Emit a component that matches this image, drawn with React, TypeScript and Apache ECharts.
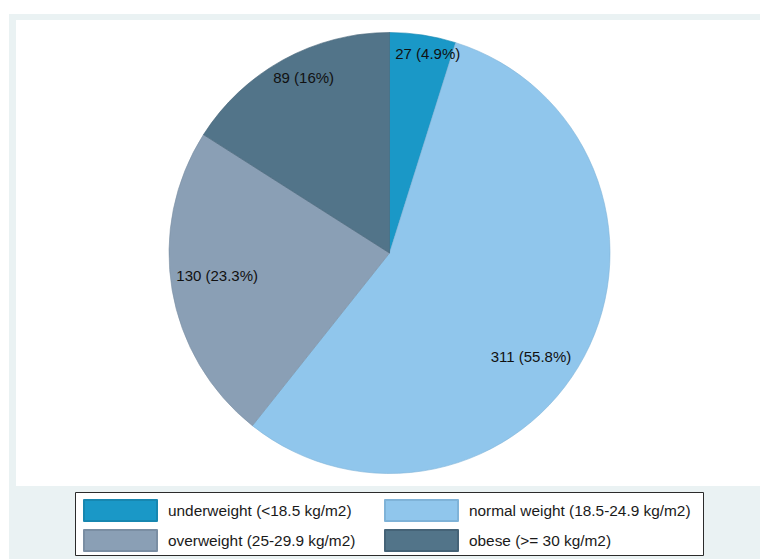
import React, { useEffect, useRef } from "react";
import * as echarts from "echarts";

const categories = [
  "underweight (<18.5 kg/m2)",
  "normal weight (18.5-24.9 kg/m2)",
  "overweight (25-29.9 kg/m2)",
  "obese (>= 30 kg/m2)",
];
const counts = [27, 311, 130, 89];
const colors = ["#1A98C7", "#90C6EC", "#8A9FB5", "#527489"];
const borderColors = ["#1787b0", "#7fb3d8", "#7a8ea3", "#456377"];
// small per-label nudges (px) to match the reference placement
const labelNudge: [number, number][] = [
  [9, -9],
  [-29, 13],
  [18, -9],
  [7, -6],
];

const FONT = "'Liberation Sans', Arial, Helvetica, sans-serif";

export default function App() {
  const ref = useRef<HTMLDivElement>(null);
  useEffect(() => {
    if (!ref.current) return;
    const chart = echarts.init(ref.current, undefined, { renderer: "svg" });
    const data = categories.map((name, i) => ({
      name,
      value: counts[i],
      itemStyle: { color: colors[i], borderColor: borderColors[i], borderWidth: 0.6 },
    }));
    const labelData = categories.map((name, i) => ({ name, value: counts[i] }));
    const fmt = (v: number, pct: number) => {
      let s = (Math.round(pct * 10 + 1e-6) / 10).toFixed(1);
      if (s.endsWith(".0")) s = s.slice(0, -2);
      return `${v} (${s}%)`;
    };
    chart.setOption({
      animation: false,
      backgroundColor: "#ffffff",
      graphic: [
        { type: "rect", z: -10, shape: { x: 9, y: 14, width: 751, height: 545 }, style: { fill: "#EAF2F3" }, silent: true },
        { type: "rect", z: -9, shape: { x: 16, y: 20, width: 744, height: 466 }, style: { fill: "#ffffff" }, silent: true },
        { type: "rect", z: -8, shape: { x: 75.5, y: 492.5, width: 628, height: 63 }, style: { fill: "#ffffff", stroke: "#2b2b2b", lineWidth: 1 }, silent: true },
      ],
      legend: [
        {
          orient: "vertical",
          left: 83,
          top: 499,
          padding: 0,
          itemWidth: 73,
          itemHeight: 21,
          itemGap: 7,
          icon: "rect",
          selectedMode: false,
          data: [categories[0], categories[2]],
          textStyle: { fontFamily: FONT, fontSize: 15.4, color: "#1a1a1a", padding: [0, 0, 0, 6] },
        },
        {
          orient: "vertical",
          left: 384,
          top: 499,
          padding: 0,
          itemWidth: 73,
          itemHeight: 21,
          itemGap: 7,
          icon: "rect",
          selectedMode: false,
          data: [categories[1], categories[3]],
          textStyle: { fontFamily: FONT, fontSize: 15.4, color: "#1a1a1a", padding: [0, 0, 0, 6] },
        },
      ],
      series: [
        {
          type: "pie",
          center: [389.5, 253],
          radius: [0, 220.5],
          startAngle: 90,
          clockwise: true,
          data,
          label: { show: false },
          labelLine: { show: false },
          emphasis: { disabled: true },
          silent: true,
        },
        {
          type: "pie",
          center: [389.5, 253],
          radius: [170, 210],
          startAngle: 90,
          clockwise: true,
          data: labelData,
          itemStyle: { color: "rgba(0,0,0,0)" },
          label: {
            show: true,
            position: "inside",
            fontFamily: FONT,
            fontSize: 15,
            color: "#111111",
            formatter: (p: any) => fmt(p.value, p.percent),
          },
          labelLine: { show: false },
          labelLayout: (p: any) => ({ dx: labelNudge[p.dataIndex][0], dy: labelNudge[p.dataIndex][1] }),
          emphasis: { disabled: true },
          silent: true,
          legendHoverLink: false,
        },
      ],
    });
    return () => chart.dispose();
  }, []);
  return (
    <div
      ref={ref}
      style={{ position: "absolute", left: 0, top: 0, width: 760, height: 559 }}
    />
  );
}
